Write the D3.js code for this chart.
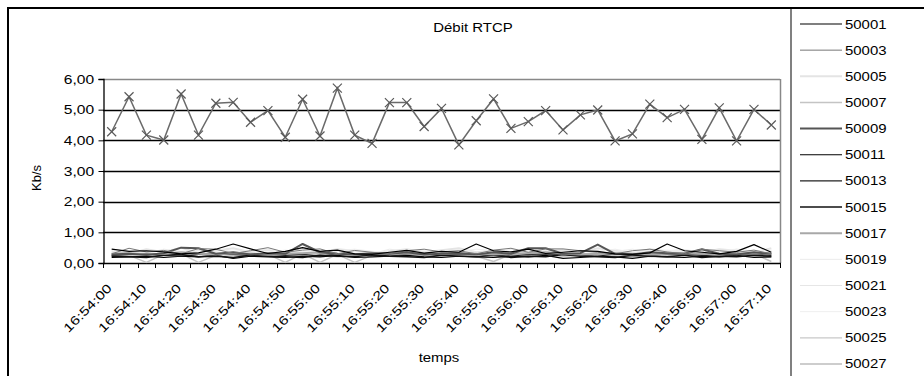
<!DOCTYPE html>
<html><head><meta charset="utf-8">
<script src="https://cdn.jsdelivr.net/npm/d3@7"></script>
<style>
html,body{margin:0;padding:0;background:#fff;}
svg{display:block;font-family:Arial,"Liberation Sans",sans-serif;}
</style></head>
<body>
<svg id="chart" width="924" height="376"></svg>
<script>
const categories = ["16:54:00","16:54:05","16:54:10","16:54:15","16:54:20","16:54:25","16:54:30","16:54:35","16:54:40","16:54:45","16:54:50","16:54:55","16:55:00","16:55:05","16:55:10","16:55:15","16:55:20","16:55:25","16:55:30","16:55:35","16:55:40","16:55:45","16:55:50","16:55:55","16:56:00","16:56:05","16:56:10","16:56:15","16:56:20","16:56:25","16:56:30","16:56:35","16:56:40","16:56:45","16:56:50","16:56:55","16:57:00","16:57:05","16:57:10"];
const tickLabels = ["16:54:00","16:54:10","16:54:20","16:54:30","16:54:40","16:54:50","16:55:00","16:55:10","16:55:20","16:55:30","16:55:40","16:55:50","16:56:00","16:56:10","16:56:20","16:56:30","16:56:40","16:56:50","16:57:00","16:57:10"];
const yTicks = [0,1,2,3,4,5,6];
const seriesNames = ["50001","50003","50005","50007","50009","50011","50013","50015","50017","50019","50021","50023","50025","50027"];
const seriesColors = ["#000000","#777777","#e4e4e4","#c4c4c4","#555555","#000000","#222222","#111111","#a8a8a8","#ebebeb","#e6e6e6","#efefef","#c8c8c8","#bcbcbc"];
const seriesWidths = [1.2,1,2,1.5,2,1.2,1.2,1.5,2,1,1,1,1.2,1.5];
const s50001 = [0.45,0.38,0.40,0.36,0.30,0.33,0.45,0.62,0.46,0.31,0.38,0.50,0.38,0.42,0.30,0.28,0.35,0.41,0.32,0.38,0.35,0.62,0.40,0.36,0.45,0.31,0.35,0.40,0.38,0.30,0.28,0.33,0.62,0.40,0.35,0.30,0.38,0.60,0.35];
const s50003 = [0.30,0.48,0.36,0.41,0.30,0.47,0.45,0.31,0.40,0.50,0.35,0.42,0.46,0.30,0.41,0.35,0.30,0.40,0.45,0.36,0.40,0.30,0.42,0.48,0.35,0.46,0.46,0.40,0.35,0.30,0.40,0.45,0.36,0.30,0.45,0.40,0.35,0.42,0.30];
const s50005 = [0.38,0.30,0.45,0.35,0.50,0.32,0.40,0.48,0.35,0.42,0.30,0.50,0.35,0.45,0.40,0.30,0.38,0.45,0.35,0.42,0.48,0.35,0.40,0.30,0.45,0.38,0.42,0.35,0.48,0.40,0.32,0.45,0.38,0.42,0.35,0.45,0.40,0.35,0.48];
const s50007 = [0.20,0.25,0.02,0.28,0.30,0.02,0.25,0.30,0.22,0.28,0.02,0.30,0.02,0.28,0.02,0.25,0.30,0.22,0.28,0.25,0.30,0.22,0.05,0.28,0.25,0.30,0.22,0.28,0.25,0.30,0.20,0.28,0.25,0.30,0.22,0.28,0.25,0.30,0.05];
const s50009 = [0.28,0.30,0.26,0.32,0.50,0.48,0.30,0.35,0.28,0.32,0.30,0.62,0.35,0.30,0.28,0.32,0.30,0.35,0.28,0.30,0.32,0.28,0.35,0.30,0.48,0.48,0.30,0.32,0.60,0.30,0.28,0.35,0.32,0.30,0.45,0.30,0.28,0.35,0.30];
const s50011 = [0.18,0.20,0.22,0.18,0.22,0.20,0.25,0.15,0.22,0.20,0.18,0.22,0.20,0.25,0.18,0.20,0.22,0.25,0.20,0.18,0.22,0.20,0.18,0.22,0.20,0.25,0.15,0.18,0.22,0.20,0.15,0.22,0.20,0.18,0.22,0.20,0.25,0.18,0.20];
const s50013 = [0.25,0.28,0.30,0.25,0.22,0.28,0.30,0.28,0.25,0.30,0.25,0.28,0.22,0.30,0.28,0.25,0.22,0.28,0.30,0.25,0.28,0.30,0.25,0.22,0.28,0.30,0.28,0.25,0.22,0.30,0.28,0.25,0.30,0.28,0.25,0.22,0.28,0.30,0.25];
const s50015 = [0.22,0.20,0.18,0.25,0.28,0.20,0.22,0.18,0.25,0.22,0.20,0.18,0.25,0.22,0.20,0.28,0.22,0.20,0.18,0.25,0.22,0.20,0.25,0.18,0.22,0.20,0.28,0.22,0.20,0.18,0.25,0.22,0.20,0.25,0.18,0.22,0.20,0.25,0.22];
const s50017 = [0.30,0.32,0.28,0.30,0.35,0.30,0.28,0.32,0.30,0.28,0.30,0.32,0.35,0.30,0.28,0.30,0.32,0.30,0.28,0.30,0.32,0.30,0.28,0.30,0.32,0.35,0.30,0.28,0.30,0.32,0.30,0.28,0.30,0.32,0.30,0.28,0.30,0.32,0.30];
const s50019 = [0.35,0.40,0.30,0.45,0.38,0.42,0.35,0.30,0.40,0.45,0.35,0.38,0.42,0.35,0.40,0.30,0.45,0.38,0.35,0.40,0.42,0.35,0.30,0.45,0.38,0.40,0.35,0.42,0.30,0.38,0.45,0.35,0.40,0.38,0.42,0.35,0.45,0.38,0.40];
const s50021 = [0.25,0.30,0.35,0.28,0.32,0.40,0.30,0.25,0.35,0.30,0.28,0.35,0.30,0.40,0.32,0.28,0.30,0.35,0.25,0.30,0.35,0.28,0.32,0.30,0.35,0.28,0.30,0.40,0.32,0.28,0.35,0.30,0.28,0.35,0.30,0.32,0.28,0.35,0.30];
const s50023 = [0.40,0.35,0.38,0.42,0.35,0.30,0.45,0.38,0.40,0.35,0.42,0.38,0.35,0.40,0.45,0.38,0.35,0.42,0.40,0.35,0.38,0.45,0.40,0.35,0.38,0.42,0.35,0.40,0.38,0.45,0.35,0.40,0.42,0.38,0.35,0.40,0.45,0.38,0.42];
const s50025 = [0.22,0.25,0.28,0.22,0.25,0.20,0.28,0.25,0.22,0.25,0.28,0.22,0.25,0.20,0.28,0.25,0.22,0.28,0.25,0.22,0.25,0.28,0.22,0.20,0.25,0.28,0.22,0.25,0.28,0.22,0.25,0.20,0.28,0.25,0.22,0.25,0.28,0.22,0.18];
const s50027 = [0.28,0.30,0.28,0.26,0.30,0.28,0.30,0.26,0.28,0.30,0.28,0.26,0.30,0.28,0.30,0.28,0.26,0.30,0.28,0.30,0.26,0.28,0.30,0.28,0.26,0.30,0.28,0.30,0.28,0.26,0.30,0.28,0.30,0.26,0.28,0.30,0.28,0.26,0.30];
const total = [4.28,5.42,4.17,4.01,5.51,4.17,5.21,5.24,4.59,4.97,4.10,5.34,4.14,5.70,4.17,3.90,5.23,5.23,4.45,5.04,3.85,4.64,5.35,4.39,4.61,4.97,4.34,4.83,4.99,3.98,4.21,5.18,4.74,5.01,4.03,5.06,3.98,5.01,4.50];
const seriesValues = [s50001,s50003,s50005,s50007,s50009,s50011,s50013,s50015,s50017,s50019,s50021,s50023,s50025,s50027];

const svg = d3.select("#chart");
const plot = {left:103, right:780, top:79, bottom:263};
const x = d3.scaleBand().domain(categories).range([plot.left, plot.right]).paddingInner(0).paddingOuter(0);
const cx = d => x(d) + x.bandwidth()/2;
const y = d3.scaleLinear().domain([0,6]).range([plot.bottom, plot.top]);

// outer chart border
svg.append("rect").attr("x",8).attr("y",8).attr("width",1000).attr("height",500)
  .attr("fill","#fff").attr("stroke","#000").attr("stroke-width",2);

// legend box left edge
svg.append("line").attr("x1",791).attr("x2",791).attr("y1",9).attr("y2",376)
  .attr("stroke","#808080").attr("stroke-width",2);

// title
svg.append("text").attr("x",473).attr("y",32).attr("text-anchor","middle")
  .attr("font-size",13).attr("transform","translate(473,0) scale(1.15,1) translate(-473,0)")
  .text("Débit RTCP");

// gridlines
svg.append("g").selectAll("line").data(yTicks.filter(v=>v>0 && v<6)).join("line")
  .attr("x1",plot.left).attr("x2",plot.right)
  .attr("y1",d=>Math.round(y(d))+0.5).attr("y2",d=>Math.round(y(d))+0.5)
  .attr("stroke","#000").attr("stroke-width",1.3);

// plot border top/right
svg.append("line").attr("x1",plot.left).attr("x2",plot.right).attr("y1",plot.top+0.5).attr("y2",plot.top+0.5)
  .attr("stroke","#888").attr("stroke-width",1.5);
svg.append("line").attr("x1",plot.right+0.5).attr("x2",plot.right+0.5).attr("y1",plot.top).attr("y2",plot.bottom)
  .attr("stroke","#888").attr("stroke-width",1.5);

// y axis
const yAxis = d3.axisLeft(y).tickValues(yTicks).tickSize(5).tickPadding(5)
  .tickFormat(d => d3.format(".2f")(d).replace(".",","));
const gy = svg.append("g").attr("transform",`translate(${plot.left+0.5},0)`).call(yAxis);
gy.select(".domain").attr("stroke","#000").attr("stroke-width",1.3);
gy.selectAll(".tick line").attr("stroke","#000");
gy.selectAll(".tick text").attr("font-size",13).attr("font-family","Arial, 'Liberation Sans', sans-serif")
  .attr("fill","#000")
  .attr("transform","scale(1.2,1)").attr("x",-7/1.2 - 2);

// x axis line and ticks between categories
const boundaries = categories.map(c => x(c)).concat([plot.right]);
svg.append("line").attr("x1",plot.left).attr("x2",plot.right+1).attr("y1",plot.bottom+0.5).attr("y2",plot.bottom+0.5)
  .attr("stroke","#000").attr("stroke-width",1.3);
svg.append("g").selectAll("line").data(boundaries).join("line")
  .attr("x1",d=>Math.round(d)+0.5).attr("x2",d=>Math.round(d)+0.5)
  .attr("y1",plot.bottom).attr("y2",plot.bottom+5)
  .attr("stroke","#000").attr("stroke-width",1);

// x tick labels
svg.append("g").selectAll("text").data(tickLabels).join("text")
  .attr("transform",d=>`translate(${cx(d)+1},289) rotate(-45) scale(1.07,0.82)`)
  .attr("text-anchor","end").attr("font-size",15).text(d=>d);

// axis titles
svg.append("text").attr("transform","translate(41,178) rotate(-90)").attr("text-anchor","middle")
  .attr("font-size",13).text("Kb/s");
svg.append("text").attr("x",439).attr("y",362).attr("text-anchor","middle")
  .attr("font-size",13).attr("transform","translate(439,0) scale(1.15,1) translate(-439,0)").text("temps");

// lines
const line = d3.line().x((d,i)=>cx(categories[i])).y(d=>y(d));
const order = [2,9,10,11,3,12,13,5,6,7,8,4,1,0];
svg.append("g").selectAll("path").data(order).join("path")
  .attr("d",k=>line(seriesValues[k]))
  .attr("fill","none").attr("stroke",k=>seriesColors[k]).attr("stroke-width",k=>seriesWidths[k])
  .attr("stroke-linejoin","round");

// total series with X markers
svg.append("path").attr("d",line(total)).attr("fill","none").attr("stroke","#6a6a6a").attr("stroke-width",1.5);
svg.append("g").selectAll("path").data(total).join("path")
  .attr("d",(d,i)=>{const px=cx(categories[i]), py=y(d), s=4.5;
     return `M${px-s},${py-s}L${px+s},${py+s}M${px-s},${py+s}L${px+s},${py-s}`;})
  .attr("stroke","#5a5a5a").attr("stroke-width",1.2).attr("fill","none");

// legend
const lg = svg.append("g").selectAll("g").data(seriesNames).join("g")
  .attr("transform",(d,i)=>`translate(0,${23.5 + i*26.15})`);
lg.append("line").attr("x1",800).attr("x2",842).attr("y1",0.5).attr("y2",0.5)
  .attr("stroke",(d,i)=>seriesColors[i]).attr("stroke-width",(d,i)=>seriesWidths[i]);
lg.append("text").attr("x",845/1.15).attr("y",5).attr("font-size",13)
  .attr("transform","scale(1.15,1)").text(d=>d);
</script>
</body></html>
